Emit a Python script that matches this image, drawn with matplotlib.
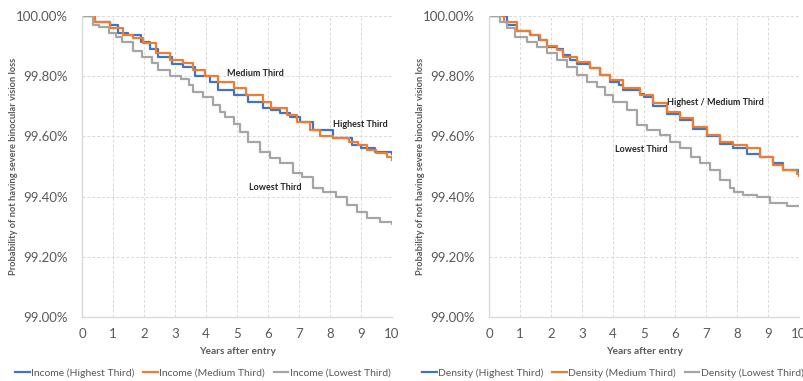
import matplotlib
matplotlib.use("Agg")
import matplotlib.pyplot as plt
from matplotlib.ticker import FuncFormatter

plt.rcParams['font.family'] = ['Lato', 'DejaVu Sans']

# ---- Data (step functions: time of step, survival % after step) ----
inc_high_t = [0, 0.42, 0.9, 1.16, 1.5, 1.9, 2.2, 2.45, 2.9, 3.26, 3.65, 4.13, 4.4, 4.9, 5.35, 5.84, 6.1, 6.4, 6.7, 7.03, 7.45, 8.1, 8.7, 9.0, 9.45, 10]
inc_high_v = [100, 99.98, 99.97, 99.945, 99.937, 99.915, 99.89, 99.865, 99.84, 99.83, 99.80, 99.78, 99.755, 99.737, 99.714, 99.694, 99.688, 99.678, 99.665, 99.648, 99.62, 99.594, 99.57, 99.56, 99.548, 99.54]

inc_med_t = [0, 0.42, 0.9, 1.33, 1.65, 1.97, 2.4, 2.84, 3.26, 3.58, 3.97, 4.4, 4.9, 5.3, 5.84, 6.1, 6.6, 6.94, 7.35, 7.68, 8.1, 8.6, 8.9, 9.2, 9.5, 9.84, 10]
inc_med_v = [100, 99.98, 99.96, 99.937, 99.927, 99.91, 99.877, 99.854, 99.843, 99.82, 99.80, 99.78, 99.76, 99.737, 99.714, 99.694, 99.67, 99.648, 99.62, 99.60, 99.594, 99.58, 99.57, 99.555, 99.545, 99.53, 99.52]

inc_low_t = [0, 0.35, 0.56, 0.87, 1.1, 1.3, 1.65, 1.95, 2.25, 2.45, 2.84, 3.2, 3.45, 3.58, 3.9, 4.23, 4.45, 4.61, 4.9, 5.1, 5.35, 5.74, 6.06, 6.39, 6.8, 7.1, 7.45, 7.77, 8.2, 8.55, 8.87, 9.19, 9.6, 10]
inc_low_v = [100, 99.97, 99.963, 99.944, 99.93, 99.914, 99.885, 99.864, 99.844, 99.82, 99.80, 99.79, 99.77, 99.748, 99.731, 99.704, 99.68, 99.664, 99.64, 99.615, 99.581, 99.548, 99.528, 99.51, 99.478, 99.465, 99.43, 99.415, 99.40, 99.372, 99.35, 99.33, 99.316, 99.31]

den_high_t = [0, 0.58, 0.9, 1.32, 1.6, 1.87, 2.2, 2.4, 2.6, 2.84, 3.26, 3.58, 3.9, 4.2, 4.32, 4.87, 5.0, 5.3, 5.74, 6.16, 6.58, 7.03, 7.45, 7.87, 8.32, 8.74, 9.16, 9.48, 10]
den_high_v = [100, 99.97, 99.95, 99.937, 99.92, 99.897, 99.89, 99.87, 99.855, 99.84, 99.827, 99.804, 99.78, 99.77, 99.755, 99.74, 99.73, 99.70, 99.675, 99.655, 99.625, 99.60, 99.575, 99.56, 99.54, 99.53, 99.51, 99.49, 99.48]

den_med_t = [0, 0.5, 0.9, 1.32, 1.65, 1.87, 2.2, 2.4, 2.84, 3.26, 3.58, 3.9, 4.32, 4.87, 5.3, 5.74, 6.16, 6.58, 7.03, 7.45, 7.87, 8.32, 8.74, 9.16, 9.48, 9.94, 10]
den_med_v = [100, 99.98, 99.95, 99.937, 99.92, 99.90, 99.887, 99.864, 99.847, 99.827, 99.804, 99.787, 99.76, 99.737, 99.71, 99.68, 99.66, 99.63, 99.605, 99.58, 99.57, 99.56, 99.53, 99.505, 99.49, 99.475, 99.47]

den_low_t = [0, 0.35, 0.58, 0.84, 1.22, 1.55, 1.87, 2.2, 2.5, 2.84, 3.16, 3.48, 3.74, 4.0, 4.45, 4.77, 5.1, 5.5, 5.84, 6.16, 6.5, 6.8, 7.13, 7.45, 7.77, 7.9, 8.2, 8.64, 9.06, 9.6, 10]
den_low_v = [100, 99.98, 99.96, 99.93, 99.914, 99.897, 99.877, 99.854, 99.83, 99.804, 99.78, 99.764, 99.737, 99.714, 99.688, 99.638, 99.62, 99.605, 99.58, 99.56, 99.53, 99.51, 99.49, 99.455, 99.43, 99.415, 99.405, 99.40, 99.38, 99.37, 99.37]

x_ticks = list(range(0, 11))
y_ticks = [99.0, 99.2, 99.4, 99.6, 99.8, 100.0]

BLUE = '#4472C4'
ORANGE = '#ED7D31'
GRAY = '#A5A5A5'
TXT = '#595959'

fig = plt.figure(figsize=(8.04, 3.81), dpi=100)
ax1 = fig.add_axes([82/804, 64/381, 310/804, 301/381])
ax2 = fig.add_axes([489/804, 64/381, 310/804, 301/381])

panels = [
    (ax1, 'Income', [(inc_high_t, inc_high_v), (inc_med_t, inc_med_v), (inc_low_t, inc_low_v)],
     [('Medium Third', 5.6, 99.81), ('Highest Third', 8.97, 99.64), ('Lowest Third', 6.25, 99.43)], 0.39),
    (ax2, 'Density', [(den_high_t, den_high_v), (den_med_t, den_med_v), (den_low_t, den_low_v)],
     [('Highest / Medium Third', 7.3, 99.714), ('Lowest Third', 4.9, 99.558)], 0.40),
]

names = ['Highest Third', 'Medium Third', 'Lowest Third']
colors = [BLUE, ORANGE, GRAY]

for ax, prefix, series, notes, lx in panels:
    handles = []
    for (t, v), c, n in zip(series, colors, names):
        h, = ax.step(t, v, where='post', color=c, lw=1.6, label=f'{prefix} ({n})')
        handles.append(h)
    ax.set_xlim(0, 10)
    ax.set_ylim(99.0, 100.0)
    ax.set_xticks(x_ticks)
    ax.set_yticks(y_ticks)
    ax.yaxis.set_major_formatter(FuncFormatter(lambda y, p: f'{y:.2f}%'))
    ax.grid(True, color='#D9D9D9', linestyle=(0, (3, 2)), lw=0.7)
    ax.set_axisbelow(True)
    for s in ['top', 'right']:
        ax.spines[s].set_visible(False)
    for s in ['left', 'bottom']:
        ax.spines[s].set_color('#D9D9D9')
        ax.spines[s].set_linewidth(1.0)
    ax.tick_params(length=0, labelsize=9.5, labelcolor=TXT)
    ax.tick_params(axis='x', pad=8)
    ax.tick_params(axis='y', pad=10)
    ax.set_xlabel('Years after entry', fontsize=7.3, fontweight='bold', color=TXT, labelpad=5)
    ax.set_ylabel('Probability of not having severe binocular vision loss', fontsize=6.7,
                  fontweight='bold', color=TXT)
    ax.yaxis.set_label_coords(-0.206, 0.5)
    for txt, x, y in notes:
        ax.text(x, y, txt, fontsize=6.5, fontweight='bold', color='#262626', ha='center', va='center')
    ax.legend(handles=handles, loc='center', bbox_to_anchor=(lx, -0.186), ncol=3, frameon=False,
              fontsize=7.5, labelcolor=TXT, handlelength=1.4, handletextpad=0.12, columnspacing=0.85,
              borderaxespad=0)

fig.savefig('out.png', dpi=100)
